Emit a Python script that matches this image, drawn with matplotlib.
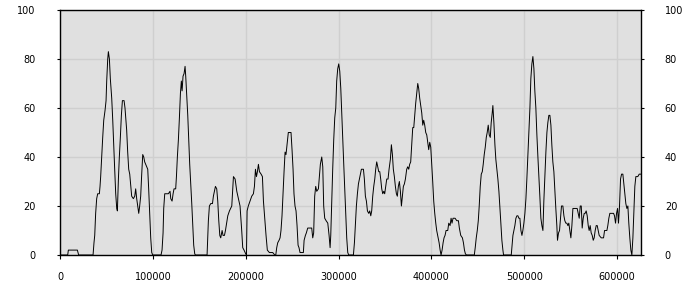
import numpy as np
import matplotlib
matplotlib.use('Agg')
import matplotlib.pyplot as plt

# x positions in thousands
x_k = [0, 7.2, 8.3, 9.0, 18.7, 20.1, 35.6, 36.6, 37.4, 38.4, 39.5, 40.6, 42.4, 43.1, 43.8, 44.9,
       46.0, 47.1, 48.5, 49.6, 50.3, 51.4, 52.1, 53.2, 54.2, 55.7, 56.8, 57.8, 58.9, 60.0, 61.1,
       61.8, 62.9, 63.9, 65.0, 66.1, 67.2, 69.0, 70.0, 71.8, 72.9, 74.0, 75.1, 76.2, 77.2, 79.0,
       80.5, 81.5, 82.6, 83.7, 84.8, 85.8, 86.9, 88.0, 89.1, 90.2, 91.2, 92.3, 93.4, 94.5, 95.5,
       96.6, 97.7, 98.8, 99.9, 108.8, 109.9, 111.0, 111.7, 112.8, 116.7, 118.5, 119.3, 120.7,
       121.8, 122.8, 124.6, 125.4, 126.4, 127.5, 128.6, 129.7, 130.7, 131.5, 132.5, 133.6, 134.7,
       135.4, 136.5, 137.6, 138.7, 139.7, 140.8, 141.9, 143.0, 144.0, 145.1, 145.8, 158.4, 159.8,
       160.9, 162.4, 164.2, 165.2, 166.3, 167.4, 168.8, 169.9, 171.0, 172.1, 173.1, 174.6, 175.6,
       177.1, 178.2, 180.7, 182.5,
       185.0, 186.8, 188.6, 190.4, 192.2, 193.9, 195.7, 196.8, 198.2, 200.0, 200.8, 201.5, 202.8,
       204.7, 206.5, 208.3, 209.4, 210.5, 211.6, 212.6, 213.7, 214.8, 216.6, 218.0, 219.1, 220.5,
       221.9, 223.3, 225.5, 229.1, 231.3, 232.4, 233.4, 234.5, 235.9, 237.0, 238.0, 239.1, 240.2,
       241.3, 242.4, 243.4, 244.5, 245.9, 248.8, 249.9, 251.0, 252.0, 253.1, 254.2, 255.3, 256.4,
       257.4, 258.5, 262.1, 262.9, 264.3, 265.3, 266.8, 271.1, 272.2, 273.2, 274.3, 275.4, 276.5,
       278.3, 279.4, 280.4, 281.9, 283.0, 284.0, 285.1, 286.6, 288.4, 289.8, 290.9, 291.6, 292.7,
       293.7, 294.8, 295.9, 297.0, 298.0, 299.1, 300.2, 301.3, 302.4, 303.4, 304.5, 305.6, 306.7,
       307.8, 308.8, 309.9, 311.0, 316.0, 317.1, 318.2, 319.2, 320.3, 321.4, 322.5, 323.5, 324.6,
       326.8, 327.8, 328.9, 330.0, 331.1, 332.5, 333.6, 334.7, 335.7, 336.8, 337.9, 339.0, 340.0,
       341.1, 342.2, 343.3, 344.4, 345.4, 346.5, 347.6, 348.7, 349.7, 350.8, 351.9, 353.3, 354.4,
       355.8, 356.9, 358.0, 359.0, 360.1, 361.2, 362.3, 363.3, 364.4, 365.5, 366.6, 367.7, 368.7,
       369.8, 370.9, 372.0, 373.4, 374.5, 375.6, 376.6, 377.7, 378.8, 379.9, 381.0, 382.0, 383.1,
       384.2, 385.3, 386.3, 387.4, 388.5, 389.6, 390.7, 391.7, 392.8, 393.9, 395.0, 396.0, 397.1,
       398.2, 399.3, 400.4, 401.4, 402.5, 403.6, 404.7, 405.7, 407.2, 408.3, 409.4, 410.4, 411.5,
       412.6, 413.6, 414.7, 415.8, 417.6, 418.7, 420.1, 421.2, 422.2, 423.3, 425.5, 427.3, 429.1,
       430.1, 431.6, 433.4, 434.5, 435.6, 436.6, 437.7,
       446.2, 447.2, 448.3, 449.4, 450.5, 451.5, 452.6, 453.7, 454.8, 455.8, 456.9, 458.0, 459.1,
       460.1, 461.2, 462.3, 463.4, 464.4, 465.5, 466.2, 467.3, 468.4, 469.4, 470.5, 471.6, 472.7,
       473.7, 474.8, 475.9, 477.0, 477.7, 486.0, 486.7, 487.8, 488.8, 489.9, 491.0, 492.1, 493.2,
       494.2, 495.3, 496.4, 497.5, 498.5, 499.6, 500.7, 501.8, 502.8, 503.9, 505.0, 506.1, 507.1,
       508.2, 509.3, 510.4, 511.4, 512.5, 513.6, 514.7, 515.8, 516.8, 517.9, 519.0, 520.1, 521.1,
       522.2, 523.3, 524.4, 525.4, 526.5, 527.6, 528.7, 529.7, 530.8, 531.9, 533.0, 534.0, 535.1,
       535.8, 536.9, 538.0, 539.0, 540.1, 541.6, 542.7, 543.7, 544.8, 545.9, 547.0, 548.0, 549.1,
       550.2, 551.3, 552.4, 554.9, 557.0, 558.1, 559.2, 560.3, 561.4, 562.4, 563.5, 564.6, 565.6,
       566.7, 567.8, 568.9, 569.9, 571.0, 572.1, 573.2, 574.3, 575.3, 576.4, 577.5, 578.6, 579.6,
       580.7, 582.9, 585.4, 586.5, 587.9, 589.0, 590.0, 591.1, 592.2, 594.4, 596.2, 597.2, 598.3,
       599.4, 600.5, 601.5, 602.6, 603.7, 604.8, 606.2, 607.3, 608.3, 609.4, 610.5, 611.6, 612.6,
       613.7, 614.8, 615.9, 617.0, 618.0, 619.1, 620.2, 622.3, 623.8, 625.2]

values = [0, 0, 0, 2, 2, 0, 0, 5, 8, 17, 23, 25, 25, 28, 32, 40,
          48, 55, 59, 63, 71, 80, 83, 80, 72, 64, 55, 45, 35, 25, 19,
          18, 31, 40, 48, 57, 63, 63, 60, 51, 42, 35, 33, 28, 24, 23,
          24, 27, 23, 20, 17, 20, 24, 33, 41, 40, 38, 37, 36, 35, 27,
          17, 7, 1, 0, 0, 2, 9, 19, 25, 25, 26, 23, 22,
          25, 27, 27, 32, 40, 47, 56, 66, 71, 67, 73, 74, 77,
          73, 65, 57, 47, 37, 29, 21, 12, 4, 0.5, 0, 0, 14,
          20, 21, 21, 24, 26, 28, 27, 22, 14, 8, 7, 10, 8,
          8, 10, 16, 18,
          20, 32, 31, 26, 23, 20, 10, 3, 2, 0.5, 0, 18, 20,
          22, 24, 25, 28, 35, 32, 34, 37, 34, 33, 32, 22, 15,
          8, 2, 1, 1, 0, 0, 3, 5, 6, 7, 10, 16, 25,
          34, 42, 41, 45, 50, 50, 43, 35, 25, 20, 18, 12, 4,
          3, 1, 1, 6, 8, 9, 11, 11, 7, 9, 24, 28, 26,
          27, 32, 37, 40, 36, 20, 15, 14, 13, 8, 3, 8, 22,
          35, 47, 56, 60, 71, 76, 78, 75, 68, 58, 47, 37, 27,
          18, 7, 1, 0, 0, 5, 13, 20, 25, 29, 31, 33, 35,
          35, 31, 24, 22, 18, 17, 18, 16, 18, 24, 28, 31, 35,
          38, 36, 34, 34, 31, 27, 25, 26, 25, 28, 31, 31, 35,
          39, 45, 41, 35, 32, 28, 25, 24, 28, 30, 26, 20, 24,
          28, 29, 31, 35, 36, 35, 37, 38, 45, 52, 52, 57, 62,
          66, 70, 68, 64, 61, 58, 53, 55, 53, 50, 49, 46, 43,
          46, 44, 37, 30, 22, 17, 13, 10, 7, 5, 2, 0, 2,
          5, 7, 8, 10, 10, 13, 12, 15, 13, 15, 15, 14, 14,
          11, 8, 7, 5, 2, 0.5, 0,
          0, 3, 7, 10, 14, 20, 28, 33, 34, 37, 41, 44, 48,
          50, 53, 49, 48, 54, 58, 61, 54, 45, 39, 35, 31, 26,
          20, 13, 6, 2, 0, 0, 3, 8, 10, 12, 15, 16, 16,
          15, 15, 10, 8, 10, 13, 17, 23, 31, 41, 51, 60, 72,
          78, 81, 76, 67, 60, 49, 40, 32, 24, 15, 12, 10, 22,
          32, 42, 50, 54, 57, 57, 53, 45, 38, 34, 26, 19, 12,
          6, 9, 10, 15, 20, 20, 16, 14, 13, 13, 12, 13, 10,
          7, 12, 19, 19, 19, 17, 15, 20, 20, 11, 15, 17, 17,
          18, 16, 12, 10, 12, 9, 8, 6, 7, 10, 12, 12, 10,
          8, 7, 7, 10, 10, 10, 12, 15, 17, 17, 17, 16, 13,
          17, 19, 13, 20, 31, 33, 33, 29, 25, 21, 19, 20, 13,
          7, 2, 0, 7, 17, 28, 32, 32, 33, 33]

x = np.array(x_k) * 1000
y = np.array(values)

fig = plt.figure(figsize=(7, 3), dpi=100)
ax = fig.add_axes([60 / 700, 45 / 300, 580.5 / 700, 245 / 300])
ax.set_facecolor('#e0e0e0')
ax.plot(x, y, color='black', lw=0.7)

ax.set_xlim(0, 625200)
ax.set_ylim(0, 100)
ax.set_xticks(np.arange(0, 600001, 100000))
ax.set_yticks(np.arange(0, 101, 20))
ax.grid(True, color='#cfcfcf', lw=1)
ax.set_axisbelow(True)

ax.tick_params(axis='y', right=True, labelright=True, length=2.5, pad=15,
               labelsize=7, direction='out')
ax.tick_params(axis='x', length=3, pad=9, labelsize=7)
for s in ax.spines.values():
    s.set_color('black')
    s.set_linewidth(1)

fig.savefig('out.png', dpi=100, facecolor='white')
